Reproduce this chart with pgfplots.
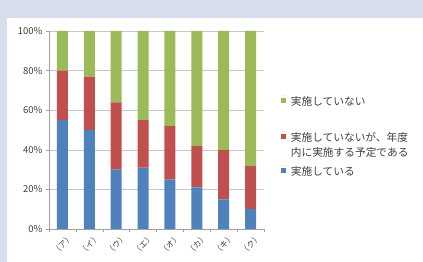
\documentclass[border=0pt]{standalone}
\usepackage{pgfplots}
\pgfplotsset{compat=1.18}
\usepackage{fontspec}
\setmainfont{Noto Sans CJK JP}
\definecolor{bgblue}{HTML}{D7DDEA}
\definecolor{cblue}{HTML}{4F81BD}
\definecolor{cred}{HTML}{C0504D}
\definecolor{cgreen}{HTML}{9BBB59}
\definecolor{txt}{HTML}{404040}
\definecolor{gridc}{HTML}{C8C8C8}
\begin{document}
\begin{tikzpicture}
\path[use as bounding box, fill=bgblue] (0,0) rectangle (423bp,262bp);
\fill[white] (7bp,0) rectangle (423bp,244bp);
\begin{axis}[
  at={(49bp,33bp)}, anchor=south west,
  scale only axis, width=215bp, height=198bp,
  ybar stacked, bar width=11bp,
  xmin=-0.5, xmax=7.5, ymin=0, ymax=100,
  xtick={0,...,7},
  xticklabels={（ア）,（イ）,（ウ）,（エ）,（オ）,（カ）,（キ）,（ク）},
  major x tick style={draw=none},
  minor xtick={-0.5,0.5,...,7.5},
  minor x tick style={gridc!80!black, thin},
  minor tick length=3bp,
  x tick label style={rotate=45, anchor=east, font=\fontsize{8bp}{8.5bp}\selectfont, text=txt, xshift=4bp, yshift=-9bp, inner sep=0.5bp},
  ytick={0,20,...,100},
  yticklabel={\pgfmathprintnumber{\tick}\%},
  /pgf/number format/assume math mode=true,
  y tick label style={font=\fontsize{9.5bp}{10bp}\selectfont, text=txt},
  ytick style={gridc!80!black, thin},
  major tick length=3bp,
  tick align=outside,
  ymajorgrids, grid style={gridc, thin},
  axis lines*=left,
  axis line style={gridc!80!black, thin},
  legend style={draw=none, fill=none, at={(229bp,135.5bp)}, anchor=north west,
    font=\fontsize{10.7bp}{14.5bp}\selectfont, text=txt, row sep=6.5bp, column sep=3.5bp,
    nodes={align=left, inner sep=1bp},
    cells={anchor=north west}},
  reverse legend,
  legend image code/.code={\path (0bp,0bp) -- (5.2bp,0bp); \path[#1,draw=none] (0bp,-2.6bp) rectangle (5.2bp,-7.8bp);},
]
\addplot[fill=cblue, draw=none] coordinates {(0,55) (1,50) (2,30) (3,31) (4,25) (5,21) (6,15) (7,10)};
\addlegendentry{実施している}
\addplot[fill=cred, draw=none] coordinates {(0,25) (1,27) (2,34) (3,24) (4,27) (5,21) (6,25) (7,22)};
\addlegendentry{実施していないが、年度\\内に実施する予定である}
\addplot[fill=cgreen, draw=none] coordinates {(0,20) (1,23) (2,36) (3,45) (4,48) (5,58) (6,60) (7,68)};
\addlegendentry{実施していない\\[2bp]\mbox{}}
\end{axis}
\end{tikzpicture}
\end{document}
